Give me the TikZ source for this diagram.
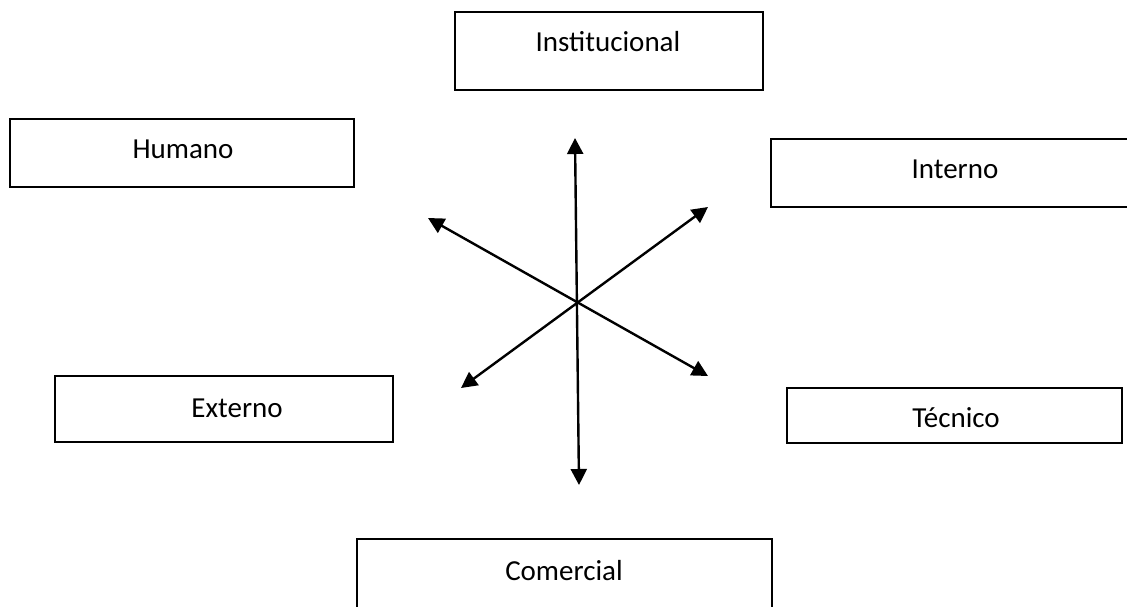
\documentclass[tikz,border=0pt]{standalone}
\usepackage{fontspec}
\setmainfont{Carlito}
\usetikzlibrary{arrows.meta}
\begin{document}
\begin{tikzpicture}[x=1pt,y=-1pt,
  box/.style={draw=black, line width=1.6pt, fill=white, inner sep=0pt},
  lbl/.style={anchor=base, inner sep=0pt, font=\fontsize{29}{34}\selectfont},
  link/.style={line width=2.4pt, {Triangle[length=16pt,width=16pt]}-{Triangle[length=16pt,width=16pt]}}]
  \clip (0,0) rectangle (1127,606);
  \path[use as bounding box] (0,0) rectangle (1127,606);

  % framed boxes
  \node[box, minimum width=308pt, minimum height=78pt] (inst) at (609,51) {};
  \node[box, minimum width=344pt, minimum height=68pt] (hum) at (182,153) {};
  \node[box, minimum width=368pt, minimum height=68pt] (int) at (955,173) {};
  \node[box, minimum width=338pt, minimum height=66pt] (ext) at (224,409) {};
  \node[box, minimum width=335pt, minimum height=55pt] (tec) at (954.5,415.5) {};
  \node[box, minimum width=415pt, minimum height=78pt] (com) at (564.5,578) {};

  % box captions
  \node[lbl] (instT) at (608,51) {Institucional};
  \node[lbl] (humT) at (183,158) {Humano};
  \node[lbl] (intT) at (955,178) {Interno};
  \node[lbl] (extT) at (237,417) {Externo};
  \node[lbl] (tecT) at (956,427) {Técnico};
  \node[lbl] (comT) at (564,580) {Comercial};

  % ends of the three crossing double arrows
  \coordinate (up) at (575,138);
  \coordinate (down) at (579,485);
  \coordinate (ul) at (428,218);
  \coordinate (lr) at (708,376);
  \coordinate (ur) at (708,207);
  \coordinate (ll) at (461,388);

  \draw[link] (up) -- (down);
  \draw[link] (ul) -- (lr);
  \draw[link] (ur) -- (ll);
\end{tikzpicture}
\end{document}
